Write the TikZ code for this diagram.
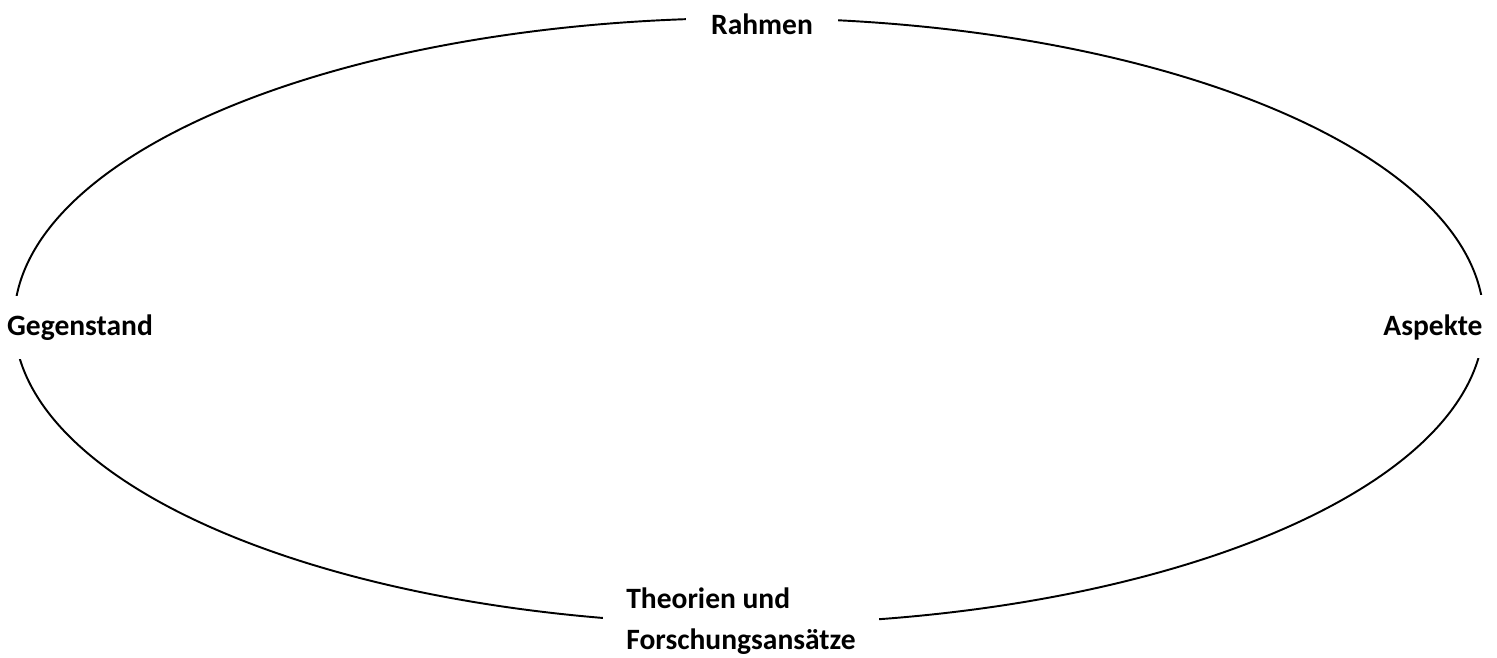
\documentclass[tikz,border=0pt]{standalone}
\usepackage{fontspec}
\setmainfont{Carlito}
\usetikzlibrary{positioning,shapes.geometric}

\begin{document}
\begin{tikzpicture}[
  x=0.02cm, y=-0.02cm,
  ring/.style={draw, ellipse, line width=1.1pt, minimum width=29.4cm, minimum height=12.12cm, inner sep=0pt},
  lbl/.style={fill=white, align=left, inner sep=0pt, font=\fontsize{16.8}{23}\selectfont\bfseries}
]
\useasboundingbox (0,0) rectangle (1497,657);
\node[ring] (frame) at (749,321) {};

\node[lbl, minimum width=3.04cm, minimum height=1cm] (rahmen) at (762,24) {Rahmen};
\node[lbl, minimum height=1.26cm, anchor=base] (gegenstand) at (80,335) {Gegenstand};
\node[lbl, minimum height=1.26cm, inner xsep=0.16cm, anchor=base] (aspekte) at (1433,335) {Aspekte};
\node[lbl, minimum width=5.54cm] (theorien) at (741,621) {Theorien und\\Forschungsansätze};
\end{tikzpicture}
\end{document}
